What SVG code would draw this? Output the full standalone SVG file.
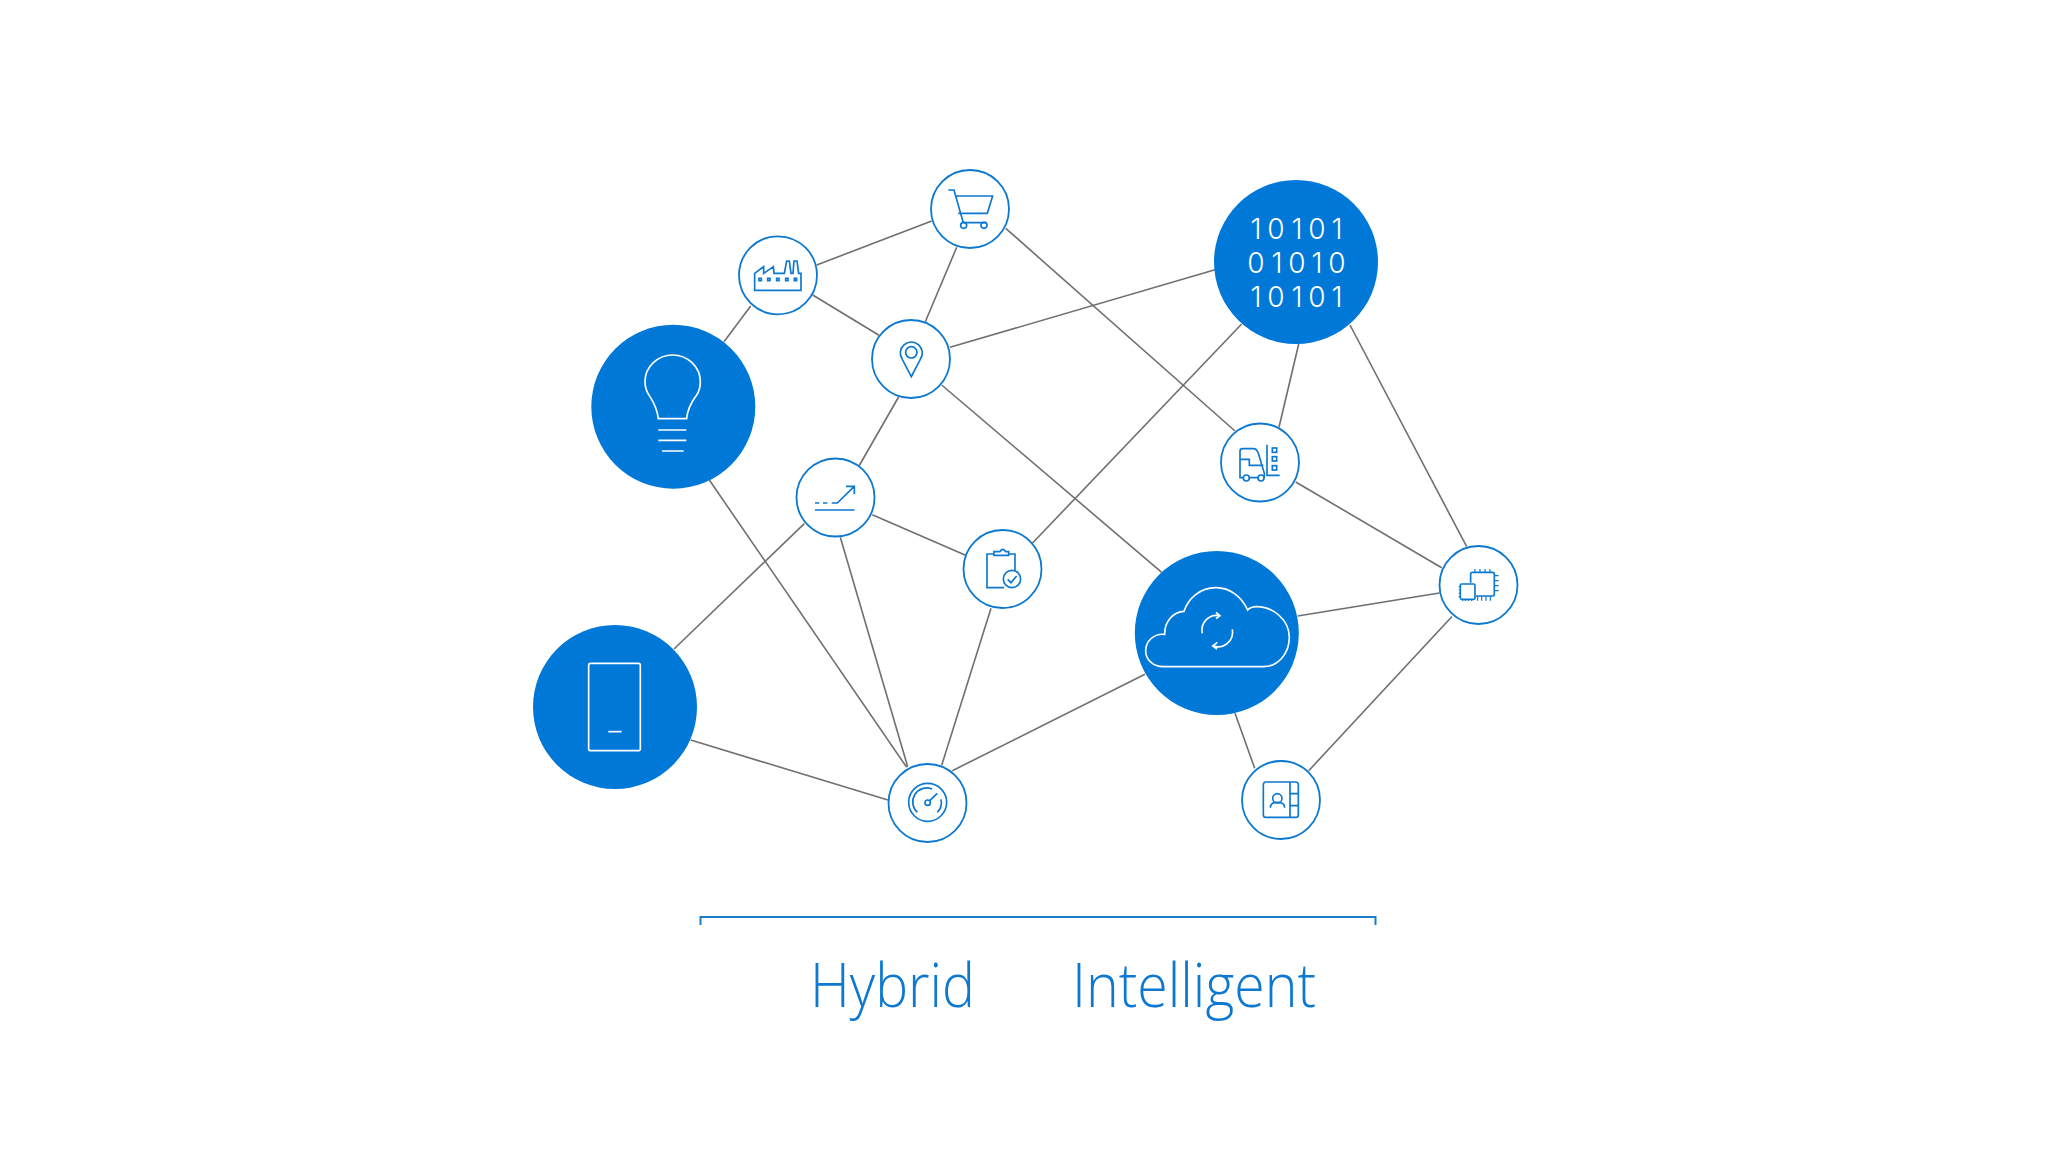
<svg xmlns="http://www.w3.org/2000/svg" width="2048" height="1152" viewBox="0 0 2048 1152">
<style>
.edge{stroke:#6f6f6f;stroke-width:1.6;fill:none}
.small{fill:#fff;stroke:#0c78d0;stroke-width:1.8}
.big{fill:#0078d7}
.ib{fill:none;stroke:#0c78d0;stroke-width:5;stroke-linejoin:miter}
.iw{fill:none;stroke:#fff;stroke-width:5}
.bin{font-family:Inter,"Open Sans",sans-serif;font-weight:300;font-size:28px;fill:#fff;text-anchor:middle}
.lab{font-family:"Open Sans","Liberation Sans",sans-serif;font-weight:300;font-size:60px;fill:#0c78d0}
</style>
<rect width="2048" height="1152" fill="#fff"/>
<g id="connectors">
<line class="edge" x1="750.7" y1="306" x2="724" y2="341.7"/>
<line class="edge" x1="816.7" y1="265" x2="931.7" y2="221"/>
<line class="edge" x1="812.7" y1="295" x2="879" y2="335.3"/>
<line class="edge" x1="956.7" y1="247.3" x2="925.3" y2="321.7"/>
<line class="edge" x1="950" y1="347.3" x2="1215" y2="269.7"/>
<line class="edge" x1="1005.7" y1="228.3" x2="1235" y2="431"/>
<line class="edge" x1="898.6" y1="397" x2="859" y2="466"/>
<line class="edge" x1="941.7" y1="385" x2="1161.7" y2="572.3"/>
<line class="edge" x1="872.3" y1="514.7" x2="965" y2="555"/>
<line class="edge" x1="1032.3" y1="543.3" x2="1241.7" y2="324"/>
<line class="edge" x1="804.3" y1="523.7" x2="674" y2="649"/>
<line class="edge" x1="840.3" y1="537.3" x2="907.7" y2="766.7"/>
<line class="edge" x1="709.3" y1="480" x2="906.7" y2="767.3"/>
<line class="edge" x1="991" y1="608.3" x2="941.7" y2="765.3"/>
<line class="edge" x1="952.3" y1="770.7" x2="1145" y2="674.3"/>
<line class="edge" x1="888" y1="800" x2="690.7" y2="740"/>
<line class="edge" x1="1279" y1="427.3" x2="1298.7" y2="344"/>
<line class="edge" x1="1350" y1="325" x2="1466.7" y2="546.7"/>
<line class="edge" x1="1295.7" y1="482" x2="1441.7" y2="567.7"/>
<line class="edge" x1="1297.7" y1="616" x2="1439.3" y2="593"/>
<line class="edge" x1="1235" y1="713.3" x2="1254.7" y2="768.3"/>
<line class="edge" x1="1308.7" y1="770.7" x2="1452" y2="616.5"/>
</g>
<g id="node-cart">
<circle class="small" cx="970" cy="209" r="39"/>
<g class="ib" transform="translate(700 150) scale(.3333)">
<path d="M745 120H762L790 218H860M765 138H878L862 190H775"/>
<circle cx="791" cy="226" r="9"/><circle cx="852" cy="226" r="9"/>
</g></g>
<g id="node-factory">
<circle class="small" cx="778" cy="275.3" r="39"/>
<g class="ib" transform="translate(700 150) scale(.3333)">
<path d="M164 421H303V370H296L291 333H282L279 370H273L268 333H260L253 370H222L220 350L191 370V350L164 370Z"/>
<rect x="177" y="385" width="7" height="7"/><rect x="203" y="385" width="7" height="7"/><rect x="230" y="385" width="7" height="7"/><rect x="257" y="385" width="7" height="7"/><rect x="283" y="385" width="7" height="7"/>
</g></g>
<g id="node-pin">
<circle class="small" cx="911" cy="359" r="39"/>
<g class="ib" transform="translate(700 150) scale(.3333)">
<path d="M634 680L607 628A33 33 0 1 1 661 628Z"/><circle cx="634" cy="607" r="17"/>
</g></g>
<g id="node-bulb">
<circle class="big" cx="673.3" cy="406.7" r="82"/>
<g class="iw" transform="translate(570 310) scale(.3333)">
<path d="M265 326H350C352 300 365 275 380 255C388 243 391 230 391 215C391 170 352 135 308 135C264 135 225 170 225 215C225 232 230 245 238 257C250 275 262 300 265 326Z"/>
<path d="M265 360H349M265 391H349M276 423H341"/>
</g></g>
<g id="node-chart">
<circle class="small" cx="835.5" cy="497.5" r="39"/>
<g class="ib" transform="translate(780 440) scale(.3333)">
<path d="M105 210H224M105 189H118M129 189H142M155 189H172L222 140M198 139H223V163"/>
</g></g>
<g id="node-clipboard">
<circle class="small" cx="1002.5" cy="569" r="39"/>
<g class="ib" transform="translate(780 440) scale(.3333)">
<path d="M672 443H621V342H642M686 342H705V392M642 346V335H660L665 329H672L677 335H686V346Z"/>
<circle cx="696" cy="417" r="26"/><path d="M683 418L693 428L710 408"/>
</g></g>
<g id="node-binary">
<circle class="big" cx="1296" cy="262" r="82"/>
<text class="bin" x="1256 1276 1297 1317 1337" y="238.700">10101</text>
<text class="bin" x="1256 1277 1297 1317 1337" y="272.900">01010</text>
<text class="bin" x="1256 1276 1297 1317 1337" y="307.100">10101</text>
</g>
<g id="node-forklift">
<circle class="small" cx="1260" cy="462.5" r="39"/>
<g class="ib" transform="translate(1210 410) scale(.3333)">
<path d="M99 203H90V123Q90 116 98 116H130Q140 116 145 130L163 190V203M118 203H144M90 148H118V166H160M171 104V196H209"/>
<circle cx="109" cy="204" r="9"/><circle cx="153" cy="204" r="9"/>
<rect x="187" y="114" width="13" height="13"/><rect x="187" y="140" width="13" height="13"/><rect x="187" y="167" width="13" height="13"/>
</g></g>
<g id="node-chip">
<circle class="small" cx="1478.5" cy="585" r="39"/>
<g class="ib" transform="translate(1210 410) scale(.3333)">
<path d="M782 518V492Q782 487 787 487H848Q853 487 853 492V553Q853 558 848 558H798"/>
<rect x="751" y="522" width="44" height="46" rx="4"/>
<path d="M795 477V487M810 477V487M825 477V487M840 477V487M853 497H866M853 512H866M853 527H866M853 542H866M803 558V572M815 558V572M828 558V572M841 558V572M746 530H751M746 540H751M746 550H751M746 560H751M758 568V573M766 568V573M775 568V573M785 568V573" stroke-width="3.5"/>
</g></g>
<g id="node-cloud">
<circle class="big" cx="1216.8" cy="633" r="82"/>
<g class="iw" transform="translate(1120 550) scale(.3333)">
<path d="M130 350H430C475 350 508 310 508 262C508 210 460 170 410 170C400 170 390 172 383 180C365 140 330 113 288 113C240 113 205 145 192 184C160 185 133 215 134 253C100 250 77 275 77 302C77 330 100 350 130 350Z"/>
<path d="M247 250A44 44 0 0 1 298 197M288 187L300 197L288 206M337 238A44 44 0 0 1 280 288M292 277L278 288L291 297"/>
</g></g>
<g id="node-gauge">
<circle class="small" cx="927.5" cy="803" r="39"/>
<g class="ib" transform="translate(860 750) scale(.3333)">
<circle cx="203" cy="157" r="57"/><circle cx="203" cy="158" r="8"/>
<path d="M172 187A42 42 0 0 1 216 117M243 148A42 42 0 0 1 232 187M209 152L232 130"/>
</g></g>
<g id="node-contact">
<circle class="small" cx="1281" cy="800" r="39"/>
<g class="ib" transform="translate(1220 740) scale(.3333)">
<rect x="130" y="126" width="105" height="106" rx="8"/>
<path d="M210 126V232M210 161H235M210 197H235M151 203C151 190 160 187 172 187C184 187 194 190 194 203"/>
<circle cx="172" cy="175" r="14"/>
</g></g>
<g id="node-phone">
<circle class="big" cx="615" cy="707" r="82"/>
<g class="iw" transform="translate(530 620) scale(.3333)">
<rect x="176" y="130" width="155" height="262" rx="6"/><path d="M235 335H275"/>
</g></g>
<g id="bracket"><path d="M700.500 925V917H1375.500V925" fill="none" stroke="#1a7fc9" stroke-width="2"/></g>
<text class="lab" x="810" y="1007" textLength="165" lengthAdjust="spacingAndGlyphs">Hybrid</text>
<text class="lab" x="1072" y="1007" textLength="244" lengthAdjust="spacingAndGlyphs">Intelligent</text>
</svg>
